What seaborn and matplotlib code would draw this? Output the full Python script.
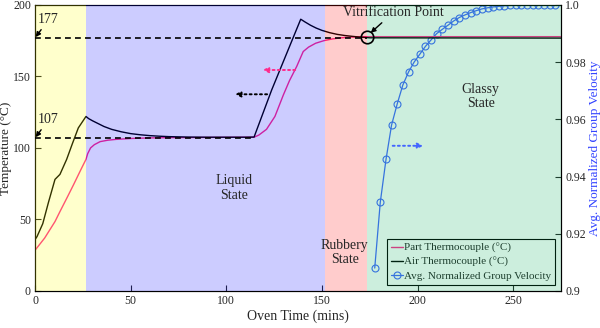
import numpy as np
import pandas as pd
import matplotlib
matplotlib.use('Agg')
import matplotlib.pyplot as plt
import seaborn as sns

# Temperature data
air_time = [0, 1, 4, 7, 10.4, 13, 16.5, 19.5, 22.6, 26.6, 28, 30, 33, 36, 40, 45, 50, 55, 60, 65,
            70, 80, 90, 100, 110, 114.5, 123.7, 138.9, 141, 144, 147, 150, 154, 158, 162, 166,
            170, 175, 275]
air_temp = [36, 38, 47, 62, 78, 81.5, 92, 103, 114, 122, 120.5, 119, 117, 115, 113, 111.3, 110,
            109.2, 108.6, 108.2, 107.9, 107.6, 107.5, 107.5, 107.5, 107.6, 140.5, 190, 188.2,
            185.8, 183.8, 182.2, 180.6, 179.4, 178.6, 178.0, 177.5, 177.0, 176.8]

part_time = [0, 5, 10.4, 13, 17, 20, 24, 26.6, 27.5, 29, 31, 34, 38, 42.5, 50, 60, 70, 114.5,
             117, 121, 125.4, 129.8, 133, 136.8, 140.2, 143, 146.7, 151, 155.4, 160, 165, 172, 275]
part_temp = [28.5, 37, 48.5, 55.5, 66, 74, 85, 92, 96, 100, 102.3, 104.4, 105.4, 106, 106.6, 107,
             107.2, 107.5, 109, 113, 122, 137, 147, 157, 167.4, 170.5, 173.2, 175, 176.2, 177,
             177.5, 177.8, 177.8]

# Average normalized group velocity
vel_time = [177.6, 180.5, 183.5, 186.4, 189.4, 192.3, 195.3, 198.2, 201.2, 204.1, 207.1, 210.0,
            213.0, 215.9, 218.9, 221.8, 224.8, 227.7, 230.7, 233.6, 236.6, 239.5, 242.5, 245.4,
            248.4, 251.3, 254.3, 257.2, 260.2, 263.1, 266.1, 269.0, 272.0]
vel_value = [0.908, 0.931, 0.946, 0.958, 0.9655, 0.972, 0.9766, 0.980, 0.9828, 0.9855, 0.9878,
             0.990, 0.9915, 0.9929, 0.9944, 0.9956, 0.9965, 0.9973, 0.998, 0.9986, 0.999, 0.9993,
             0.9995, 0.9997, 0.9998, 0.9999, 0.9999, 1.0, 1.0, 1.0, 1.0, 1.0, 1.0]

# State regions (start, end, colour) and reference temperatures
state_bounds = [0, 26.7, 151.5, 173.4, 275]
state_colors = ['#FFFF00', '#0000FF', '#FF0000', '#00AA55']
ref_temps = [177, 107]
ref_ends = [173.4, 115]
vit_time, vit_temp = 173.4, 177.6

part_color = '#FF2A8C'
air_color = 'black'
vel_color = '#4466FF'

sns.set_style('ticks')
plt.rcParams['font.family'] = ['Liberation Serif', 'DejaVu Serif']

fig = plt.figure(figsize=(6, 3.28), dpi=100)
ax = fig.add_axes([0.0585, 0.113, 0.8765, 0.872])
ax2 = ax.twinx()
# temperature axes on top so its shading covers everything below
ax.set_zorder(ax2.get_zorder() + 1)
ax.patch.set_visible(False)
ax2.patch.set_visible(False)

# Temperature lines
sns.lineplot(x=part_time, y=part_temp, ax=ax, color=part_color, linewidth=1.0,
             label='Part Thermocouple (°C)', sort=False)
sns.lineplot(x=air_time, y=air_temp, ax=ax, color=air_color, linewidth=1.0,
             label='Air Thermocouple (°C)', sort=False)
for temp, end in zip(ref_temps, ref_ends):
    ax.plot([0, end], [temp, temp], color='black', linestyle=(0, (3.5, 2.5)), linewidth=1.2,
            zorder=20)
ax.plot(vit_time, vit_temp, 'o', mfc='none', mec='black', ms=9, mew=1.2, zorder=30)

# Velocity line
sns.lineplot(x=vel_time, y=vel_value, ax=ax2, color=vel_color, linewidth=0.9, marker='o',
             markersize=5, markerfacecolor='none', markeredgecolor=vel_color, markeredgewidth=0.8,
             label='Avg. Normalized Group Velocity', sort=False)

# Axes limits and ticks
ax.set_xlim(0, 275)
ax.set_ylim(0, 200)
ax2.set_ylim(0.9, 1.0)
ax.set_xticks([0, 50, 100, 150, 200, 250])
ax.set_yticks([0, 50, 100, 150, 200])
ax2.set_yticks([0.9, 0.92, 0.94, 0.96, 0.98, 1.0])
ax2.set_yticklabels(['0.9', '0.92', '0.94', '0.96', '0.98', '1.0'])
for a in (ax, ax2):
    a.tick_params(direction='in', length=4, width=0.8, labelsize=8.5, pad=3)
    for s in a.spines.values():
        s.set_color('black')
        s.set_linewidth(0.8)
ax.set_xlabel('Oven Time (mins)', fontsize=10, labelpad=2)
ax.set_ylabel('Temperature (°C)', fontsize=9.5, labelpad=1)
ax2.set_ylabel('Avg. Normalized Group Velocity', fontsize=9.5, color='#3344FF', labelpad=2)

# Legend (combined)
h1, l1 = ax.get_legend_handles_labels()
h2, l2 = ax2.get_legend_handles_labels()
ax2.get_legend().remove()
leg = ax.legend(h1 + h2, l1 + l2, loc='lower right', fontsize=8, frameon=True, fancybox=False,
                edgecolor='black', framealpha=1, handlelength=1.05, handletextpad=0.1,
                labelspacing=0.38, borderpad=0.35, borderaxespad=0.55)
leg.get_frame().set_linewidth(0.8)
leg.set_zorder(5)

# State shading over lines and legend (semi-transparent)
for i, c in enumerate(state_colors):
    ax.axvspan(state_bounds[i], state_bounds[i + 1], color=c, alpha=0.2, lw=0, zorder=10)

# Annotations
arrow = dict(arrowstyle='-|>', color='black', lw=1.0, mutation_scale=7, shrinkA=0, shrinkB=0)
ax.annotate('177', xy=(0.3, 177.5), xytext=(1.5, 185), ha='left', va='bottom', fontsize=10,
            arrowprops=arrow, zorder=20)
ax.annotate('107', xy=(0.3, 107.5), xytext=(1.5, 115), ha='left', va='bottom', fontsize=10,
            arrowprops=arrow, zorder=20)
ax.annotate('Vitrification Point', xy=(175.5, 180.5), xytext=(187.5, 195), ha='center',
            va='center', fontsize=10, arrowprops=dict(arrow, shrinkA=1), zorder=20)
ax.text(104, 72, 'Liquid\nState', ha='center', va='center', linespacing=1.15, fontsize=10,
        zorder=20)
ax.text(162, 27, 'Rubbery\nState', ha='center', va='center', linespacing=1.15, fontsize=10,
        zorder=20)
ax.text(233, 136, 'Glassy\nState', ha='center', va='center', linespacing=1.15, fontsize=10,
        zorder=20)

# Dotted direction arrows
dotted = dict(arrowstyle='-|>', lw=1.4, linestyle=':', mutation_scale=8, shrinkA=0, shrinkB=0)
ax.annotate('', xy=(119, 154.5), xytext=(136, 154.5),
            arrowprops=dict(dotted, color=part_color), zorder=20)
ax.annotate('', xy=(104.5, 137.5), xytext=(121.3, 137.5),
            arrowprops=dict(dotted, color='black'), zorder=20)
ax.annotate('', xy=(203, 101.5), xytext=(187, 101.5),
            arrowprops=dict(dotted, color=vel_color), zorder=20)

fig.savefig('out.png', dpi=100)
